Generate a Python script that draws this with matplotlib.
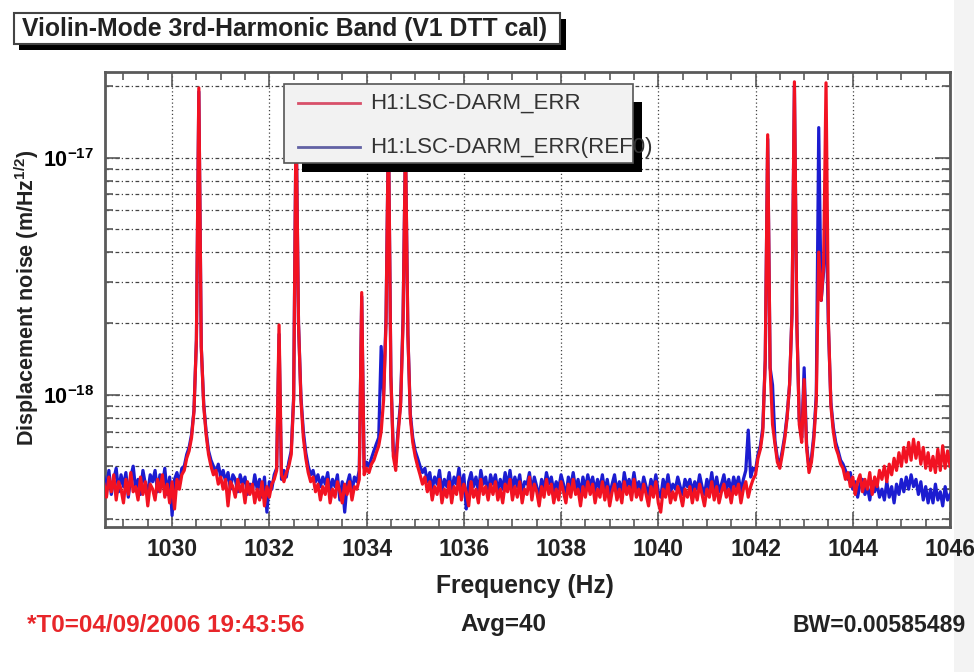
import matplotlib
matplotlib.use("Agg")
import matplotlib.pyplot as plt
import numpy as np
from matplotlib.patches import Rectangle
from matplotlib.lines import Line2D
from matplotlib.ticker import MultipleLocator, LogLocator, FixedLocator, NullFormatter

plt.rcParams['font.family'] = 'Liberation Sans'
plt.rcParams['mathtext.fontset'] = 'custom'
plt.rcParams['mathtext.rm'] = 'Liberation Sans:bold'
plt.rcParams['mathtext.it'] = 'Liberation Sans:bold'
plt.rcParams['mathtext.bf'] = 'Liberation Sans:bold'

# Spectrum bins: first bin and bin width (Hz)
F_START = 1028.60
F_STEP = 0.05

# Amplitude spectral density, units of 1e-19 m/Hz^1/2, one row per Hz
darm_err = [
    4.2, 3.7, 4.5, 3.9, 4.6, 3.6, 4.3, 4.0, 3.5, 4.4, 3.8, 4.7, 3.9, 4.1, 3.6, 4.5, 3.8, 4.3, 3.4, 4.2,  # 1028.6
    4.0, 3.6, 4.4, 3.9, 4.6, 3.7, 4.2, 3.5, 4.3, 3.3, 4.4, 4.0, 4.6, 4.8, 5.4, 5.8, 6.6, 8.5, 17, 197,   # 1029.6
    16, 9.0, 6.8, 5.6, 5.0, 4.6, 4.8, 4.2, 4.5, 4.0, 4.4, 3.4, 4.3, 4.1, 3.7, 4.4, 3.9, 4.2, 3.5, 4.3,   # 1030.6
    3.8, 4.2, 3.5, 4.0, 3.6, 4.3, 3.4, 4.1, 3.7, 4.2, 4.4, 4.8, 19.7, 4.6, 4.3, 4.7, 5.0, 5.6, 9.5, 150, # 1031.6
    20, 9.5, 6.6, 5.4, 4.7, 4.3, 4.5, 3.9, 4.2, 3.6, 4.1, 3.8, 4.4, 3.5, 4.0, 3.7, 4.3, 3.9, 3.5, 4.2,   # 1032.6
    3.8, 4.3, 3.6, 4.1, 4.0, 4.4, 27, 4.6, 4.9, 4.7, 5.1, 5.3, 5.7, 6.1, 7.0, 9.5, 20, 140, 12, 5.5,     # 1033.6
    4.8, 6.9, 9.0, 20, 120, 18, 8.0, 6.3, 5.5, 5.0, 4.6, 4.2, 4.5, 3.9, 4.3, 3.6, 4.1, 3.8, 4.4, 3.5,    # 1034.6
    4.0, 3.7, 4.3, 3.5, 4.1, 3.8, 4.5, 3.6, 4.2, 3.9, 3.4, 4.3, 3.7, 4.0, 3.5, 4.4, 3.8, 4.1, 3.6, 4.2,  # 1035.6
    3.8, 4.3, 3.6, 4.0, 3.5, 4.2, 3.9, 4.4, 3.6, 4.1, 3.7, 4.3, 3.5, 4.0, 3.8, 4.5, 3.6, 4.2, 3.9, 3.4,  # 1036.6
    4.1, 3.7, 4.4, 3.8, 4.2, 3.5, 4.0, 3.6, 4.3, 3.9, 3.5, 4.2, 3.7, 4.4, 3.8, 4.0, 3.4, 4.1, 3.7, 4.3,  # 1037.6
    3.8, 4.2, 3.5, 4.0, 3.7, 4.3, 3.6, 4.1, 3.4, 3.9, 4.2, 3.6, 4.0, 3.5, 4.3, 3.8, 4.1, 3.6, 4.4, 3.7,  # 1038.6
    4.0, 3.6, 4.2, 3.8, 3.4, 4.1, 3.7, 4.3, 3.5, 3.2, 4.0, 3.7, 4.2, 3.5, 3.9, 3.6, 4.1, 3.8, 3.4, 4.0,  # 1039.6
    3.7, 4.1, 3.5, 4.0, 3.6, 4.2, 3.8, 3.4, 4.0, 3.7, 4.3, 3.6, 4.1, 3.5, 3.9, 4.2, 3.7, 4.0, 3.5, 4.1,  # 1040.6
    3.8, 4.2, 3.5, 4.0, 4.3, 3.7, 4.1, 4.4, 4.6, 5.4, 5.9, 7.0, 14, 125, 13, 7.5, 6.2, 5.2, 4.9, 5.6,    # 1041.6
    6.5, 8.0, 11, 22, 209, 20, 7.5, 6.3, 11.6, 6.0, 4.7, 5.2, 6.5, 9.5, 40, 25, 35, 207, 20, 9.0,        # 1042.6
    7.0, 6.0, 5.6, 5.1, 4.9, 4.4, 4.7, 4.1, 4.5, 3.8, 4.3, 4.6, 3.9, 4.4, 4.0, 4.7, 3.8, 4.5, 4.1, 4.8,  # 1043.6
    4.4, 5.0, 4.3, 5.1, 4.6, 5.4, 4.8, 5.7, 5.0, 6.0, 5.2, 6.3, 5.3, 6.5, 5.4, 6.3, 5.1, 6.0, 4.9, 5.7,  # 1044.6
    4.8, 5.5, 4.7, 5.9, 4.8, 6.1, 4.9, 5.8, 5.0,                                                        # 1045.6
]

darm_ref = [
    4.5, 4.0, 4.8, 3.8, 4.4, 4.9, 3.9, 4.6, 4.1, 4.7, 3.7, 4.5, 5.0, 4.0, 4.4, 3.8, 4.8, 4.2, 3.9, 4.6,  # 1028.6
    4.3, 4.8, 3.9, 4.6, 4.1, 4.9, 3.8, 4.5, 3.1, 4.4, 4.7, 4.2, 4.9, 5.0, 5.6, 6.0, 6.8, 8.6, 17, 190,   # 1029.6
    16, 9.2, 7.0, 5.8, 5.3, 5.0, 4.7, 5.1, 4.5, 4.8, 4.3, 4.7, 4.0, 4.6, 4.4, 3.9, 4.6, 4.2, 4.5, 3.8,   # 1030.6
    4.2, 3.9, 4.6, 4.0, 4.4, 3.7, 4.5, 3.2, 4.3, 4.0, 4.6, 4.9, 18, 4.4, 4.8, 4.5, 5.2, 5.8, 9.8, 150,   # 1031.6
    20, 9.8, 7.0, 5.7, 5.0, 4.6, 4.8, 4.3, 4.6, 4.1, 4.5, 4.2, 4.7, 3.9, 4.4, 4.1, 4.6, 3.6, 4.3, 3.2,   # 1032.6
    4.2, 4.6, 3.9, 4.5, 4.3, 4.8, 26, 4.9, 5.2, 5.0, 5.4, 5.8, 6.2, 6.6, 16, 10, 21, 135, 12, 5.8,       # 1033.6
    5.2, 7.2, 9.3, 21, 115, 18, 8.3, 6.6, 5.8, 5.4, 5.0, 4.7, 4.9, 4.3, 4.7, 4.0, 4.5, 4.2, 4.8, 3.9,    # 1034.6
    4.4, 4.1, 4.7, 3.9, 4.5, 4.2, 4.9, 4.0, 4.6, 3.3, 4.3, 4.7, 4.1, 4.5, 3.9, 4.8, 4.2, 4.5, 3.8, 4.6,  # 1035.6
    4.2, 4.6, 3.9, 4.4, 4.0, 4.7, 4.1, 4.8, 4.0, 4.5, 4.1, 4.6, 3.8, 4.3, 4.2, 4.7, 3.9, 4.5, 4.1, 3.7,  # 1036.6
    4.4, 4.0, 4.7, 4.2, 4.5, 3.9, 4.3, 4.0, 4.6, 4.2, 3.7, 4.5, 4.1, 4.7, 4.0, 4.4, 3.8, 4.5, 4.0, 4.6,  # 1037.6
    4.1, 4.5, 3.9, 4.4, 4.0, 4.6, 3.9, 4.4, 3.8, 4.2, 4.6, 3.9, 4.3, 3.8, 4.7, 4.1, 4.4, 4.0, 4.7, 4.0,  # 1038.6
    4.3, 3.9, 4.5, 4.1, 3.8, 4.4, 4.0, 4.6, 3.9, 3.7, 4.4, 4.0, 4.6, 3.9, 4.2, 4.0, 4.5, 4.1, 3.8, 4.4,  # 1039.6
    4.1, 4.4, 3.9, 4.3, 4.0, 4.6, 4.1, 3.8, 4.4, 4.0, 4.7, 3.9, 4.5, 3.9, 4.2, 4.6, 4.0, 4.4, 3.9, 4.5,  # 1040.6
    4.1, 4.5, 3.9, 4.4, 4.8, 7.1, 4.5, 4.9, 4.8, 5.6, 6.1, 7.3, 14, 120, 13, 11, 6.4, 5.4, 5.1, 5.8,     # 1041.6
    6.7, 8.2, 11, 22, 200, 20, 7.8, 6.6, 13, 6.2, 4.9, 5.4, 6.8, 10, 134, 25, 33, 60, 19, 9.3,          # 1042.6
    7.3, 6.3, 5.8, 5.3, 5.1, 4.8, 4.4, 4.7, 4.0, 4.3, 3.7, 4.2, 4.4, 3.8, 4.1, 3.6, 4.3, 3.9, 4.2, 3.7,  # 1043.6
    4.0, 3.6, 4.3, 3.7, 4.1, 3.5, 4.2, 3.8, 4.4, 3.9, 4.5, 4.0, 4.6, 4.1, 4.4, 3.8, 4.3, 3.6, 4.1, 3.5,  # 1044.6
    4.0, 3.5, 4.2, 3.6, 3.9, 3.4, 4.1, 3.6, 3.8,                                                        # 1045.6
]

trace_names = ['H1:LSC-DARM_ERR', 'H1:LSC-DARM_ERR(REF0)']
x_ticks = [1030, 1032, 1034, 1036, 1038, 1040, 1042, 1044, 1046]
y_ticks = [1e-18, 1e-17]

freq = F_START + F_STEP * np.arange(len(darm_err))
err = np.array(darm_err) * 1e-19
ref = np.array(darm_ref) * 1e-19

W, H = 974, 672
fig = plt.figure(figsize=(W / 100, H / 100), dpi=100)


def fx(px):
    return px / W


def fy(py):
    return 1 - py / H


ax = fig.add_axes([fx(105), fy(527), fx(950) - fx(105), fy(72) - fy(527)])
ax.set_axisbelow(True)

red = '#f21222'
blue = '#1c1cd0'
ax.plot(freq, ref, color=blue, lw=2.3, zorder=3)
ax.plot(freq, err, color=red, lw=2.3, zorder=4)

ax.set_yscale('log')
ax.set_xlim(1028.62, 1046.0)
ax.set_ylim(2.77e-19, 2.3e-17)

ax.xaxis.set_major_locator(FixedLocator(x_ticks))
ax.xaxis.set_minor_locator(MultipleLocator(0.5))
ax.yaxis.set_major_locator(FixedLocator(y_ticks))
ax.yaxis.set_minor_locator(LogLocator(base=10, subs=np.arange(2, 10)))
ax.yaxis.set_minor_formatter(NullFormatter())
ax.yaxis.set_major_formatter(lambda v, pos: r'$10^{%d}$' % round(np.log10(v)))

frame = '#5a5a5a'
for s in ax.spines.values():
    s.set_color(frame)
    s.set_linewidth(2)
ax.tick_params(which='both', direction='in', top=True, right=True, color=frame, width=1.2)
ax.tick_params(which='major', length=11)
ax.tick_params(which='minor', length=6)
ax.tick_params(axis='x', which='major', pad=8, labelsize=16.5)
ax.tick_params(axis='y', which='major', pad=8, labelsize=15.5)
for lab in ax.get_xticklabels():
    lab.set_fontweight('bold')
    lab.set_color('#222222')

ax.xaxis.grid(True, which='major', color='#444444', lw=0.9, ls=(0, (1, 2)))
ax.yaxis.grid(True, which='both', color='#444444', lw=0.9, ls=(0, (3, 2, 1, 2)))

# title box with drop shadow
fig.add_artist(Rectangle((fx(19), fy(50)), fx(566) - fx(19), fy(19) - fy(50),
                         transform=fig.transFigure, facecolor='black', edgecolor='none', zorder=5))
fig.add_artist(Rectangle((fx(14), fy(44)), fx(560) - fx(14), fy(13) - fy(44),
                         transform=fig.transFigure, facecolor='white', edgecolor='#444444', lw=1.5, zorder=6))
fig.text(fx(22), fy(29), 'Violin-Mode 3rd-Harmonic Band (V1 DTT cal)', fontsize=17.8,
         fontweight='bold', color='#222222', ha='left', va='center', zorder=7)

# legend box with drop shadow
fig.add_artist(Rectangle((fx(302), fy(172)), fx(642) - fx(302), fy(102) - fy(172),
                         transform=fig.transFigure, facecolor='black', edgecolor='none', zorder=5))
fig.add_artist(Rectangle((fx(284), fy(163)), fx(633) - fx(284), fy(84) - fy(163),
                         transform=fig.transFigure, facecolor='#f2f2f2', edgecolor='#555555', lw=1.2, zorder=6))
legend_colors = ['#d8506a', '#6262a4']
for i, (name, col) in enumerate(zip(trace_names, legend_colors)):
    yy = fy(103 + 44 * i)
    fig.add_artist(Line2D([fx(298), fx(360)], [yy, yy], transform=fig.transFigure,
                          color=col, lw=2, zorder=7))
    fig.text(fx(370), yy, name, fontsize=16, color='#333333', ha='left', va='center', zorder=8)

fig.text(fx(27), fy(298), r'Displacement noise (m/Hz$^{\mathregular{1/2}}$)', rotation=90,
         fontsize=15.5, fontweight='bold', color='#222222', ha='center', va='center')
fig.text(fx(525), fy(586), 'Frequency (Hz)', fontsize=17.7, fontweight='bold',
         color='#222222', ha='center', va='center')

fig.text(fx(27), fy(625), '*T0=04/09/2006 19:43:56', fontsize=17.5, fontweight='bold',
         color='#e8262a', ha='left', va='center')
fig.text(fx(460), fy(625), 'Avg=40', fontsize=17.5, fontweight='bold',
         color='#222222', ha='left', va='center')
fig.text(fx(793), fy(625), 'BW=0.00585489', fontsize=16.6, fontweight='bold',
         color='#222222', ha='left', va='center')

# pale strip along the right edge
fig.add_artist(Rectangle((fx(954), 0), fx(974) - fx(954), 1, transform=fig.transFigure,
                         facecolor='#f3f3f3', edgecolor='none', zorder=-1))

fig.savefig('out.png', dpi=100)
